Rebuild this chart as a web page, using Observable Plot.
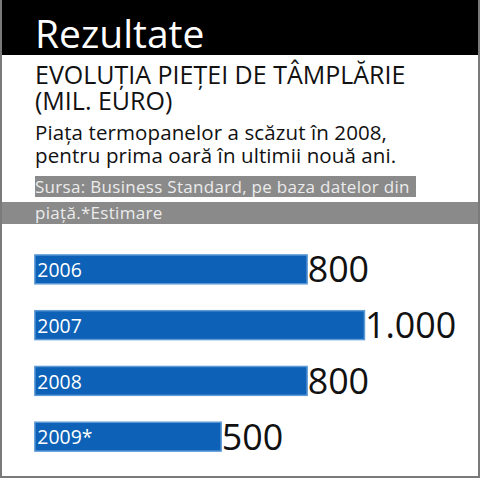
<!DOCTYPE html>
<html><head><meta charset="utf-8">
<script src="https://cdn.jsdelivr.net/npm/d3@7"></script>
<script src="https://cdn.jsdelivr.net/npm/@observablehq/plot@0.6"></script>
<style>
html,body{margin:0;padding:0;background:#fff;}
#page{position:relative;width:476px;height:476px;border:2px solid #7a7a7a;border-top:none;overflow:hidden;font-family:"Open Sans",sans-serif;}
#hdr{position:absolute;left:0;top:0;width:476px;height:55px;background:#000;}
#hdr span{position:absolute;left:33px;top:10px;color:#fff;font-size:39px;line-height:46px;}
.t{position:absolute;left:33px;white-space:nowrap;color:#111;}
#sub1{top:61px;font-size:25px;line-height:26px;}
#sub2{top:87px;font-size:25px;line-height:26px;}
#desc1{top:121px;font-size:20.5px;line-height:22px;letter-spacing:0.1px;}
#desc2{top:144px;font-size:20.5px;line-height:22px;letter-spacing:0.1px;}
#src1{top:176px;font-size:17px;line-height:21px;height:21px;background:#8a8a8a;color:#ececec;padding:0 6px 0 0;letter-spacing:0.3px;}
#src2band{position:absolute;left:0;top:202px;width:476px;height:22px;background:#8a8a8a;}
#src2{top:202px;font-size:17px;line-height:21px;color:#ececec;letter-spacing:0.3px;}
#chart{position:absolute;left:-2px;top:240px;}
</style></head>
<body><div id="page">
<div id="hdr"><span>Rezultate</span></div>
<div class="t" id="sub1">EVOLUȚIA PIEȚEI DE TÂMPLĂRIE</div>
<div class="t" id="sub2">(MIL. EURO)</div>
<div class="t" id="desc1">Piața termopanelor a scăzut în 2008,</div>
<div class="t" id="desc2">pentru prima oară în ultimii nouă ani.</div>
<div class="t" id="src1">Sursa: Business Standard, pe baza datelor din</div>
<div id="src2band"></div>
<div class="t" id="src2">piață.*Estimare</div>
<div id="chart"></div>
</div>
<script>
const years = ["2006", "2007", "2008", "2009*"];
const values = [800, 1000, 800, 500];
// the original graphic's bars do not start from zero: its value axis starts near -150
const axisStart = -150;
const axisEnd = 1000;

const data = years.map((y, i) => ({year: y, value: values[i]}));
const fmt = d3.formatLocale({decimal: ",", thousands: ".", grouping: [3], currency: ["", ""]}).format(",d");

const chart = Plot.plot({
  width: 480,
  height: 226,
  marginTop: 0, marginBottom: 0, marginLeft: 35, marginRight: 0,
  x: {domain: [axisStart, axisEnd], range: [35, 366], axis: null},
  y: {domain: years, paddingInner: 0.484, paddingOuter: 0.242, axis: null},
  style: {fontFamily: "'Open Sans', sans-serif", background: "transparent", overflow: "visible"},
  marks: [
    Plot.barX(data, {x1: axisStart, x2: "value", y: "year", fill: "#0d61b6", stroke: "#5d9ad6", strokeWidth: 1.5}),
    Plot.text(data, {x: axisStart, y: "year", text: "year", textAnchor: "start", dx: 2, dy: 1, fill: "#ffffff", fontSize: 19.5}),
    Plot.text(data, {x: "value", y: "year", text: d => fmt(d.value), textAnchor: "start", dx: 0, dy: 1, fill: "#111", fontSize: 36})
  ]
});
document.getElementById("chart").appendChild(chart);
</script>
</body></html>
